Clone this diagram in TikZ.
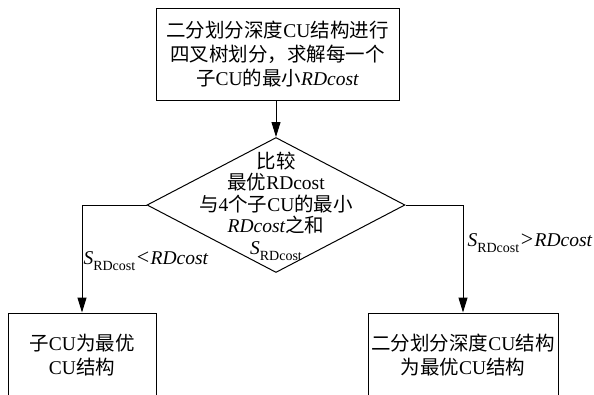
\documentclass[tikz,border=0pt]{standalone}
\usepackage{fontspec}
\setmainfont{Liberation Serif}
\newfontfamily\cjk{Noto Sans CJK SC}
\usetikzlibrary{arrows.meta,shapes.geometric}
\newcommand\Srd{\textit{S}\raisebox{-0.3em}{\fontsize{14}{14}\selectfont RDcost}}
\newcommand\relsym[1]{\kern1.5pt{\fontsize{22}{22}\selectfont #1}\kern1.5pt}
\begin{document}
\begin{tikzpicture}[x=1pt,y=-1pt,line width=1pt,
  box/.style={draw, rectangle, inner sep=0pt, align=center, font=\fontsize{19.5}{24}\selectfont},
  dtxt/.style={align=center, inner sep=0pt, font=\fontsize{19.5}{21.5}\selectfont},
  lbl/.style={anchor=west, font=\fontsize{19.5}{24}\selectfont},
  arr/.style={-{Triangle[length=15pt,width=9pt]}}]
\useasboundingbox (0,0) rectangle (594,394);
\clip (0,0) rectangle (594,394);
\node[box, minimum width=243pt, minimum height=92pt] (top) at (277.5,54)
  {{\cjk 二分划分深度}CU{\cjk 结构进行}\\{\cjk 四叉树划分，求解每一个}\\{\cjk 子}CU{\cjk 的最小}\textit{RDcost}};
\node[diamond, draw, minimum width=258pt, minimum height=135pt, inner sep=0pt] (dia) at (276,205) {};
\node[dtxt] (dtext) at (276,206)
  {{\cjk 比较}\\{\cjk 最优}RDcost\\{\cjk 与}4{\cjk 个子}CU{\cjk 的最小}\\\textit{RDcost}{\cjk 之和}\\\Srd};
\node[box, minimum width=148pt, minimum height=84pt] (lbox) at (82,355)
  {{\cjk 子}CU{\cjk 为最优}\\CU{\cjk 结构}};
\node[box, minimum width=190pt, minimum height=84pt] (rbox) at (463,355)
  {{\cjk 二分划分深度}CU{\cjk 结构}\\{\cjk 为最优}CU{\cjk 结构}};
\draw[arr] (dia.north |- top.south) -- (dia.north);
\draw[arr] (dia.west) -| (lbox.north) node[lbl, pos=0.76, inner sep=1pt] {\Srd\relsym{<}\textit{RDcost}};
\draw[arr] (dia.east) -| (rbox.north) node[lbl, pos=0.676, inner sep=4pt] {\Srd\relsym{>}\textit{RDcost}};
\end{tikzpicture}
\end{document}
